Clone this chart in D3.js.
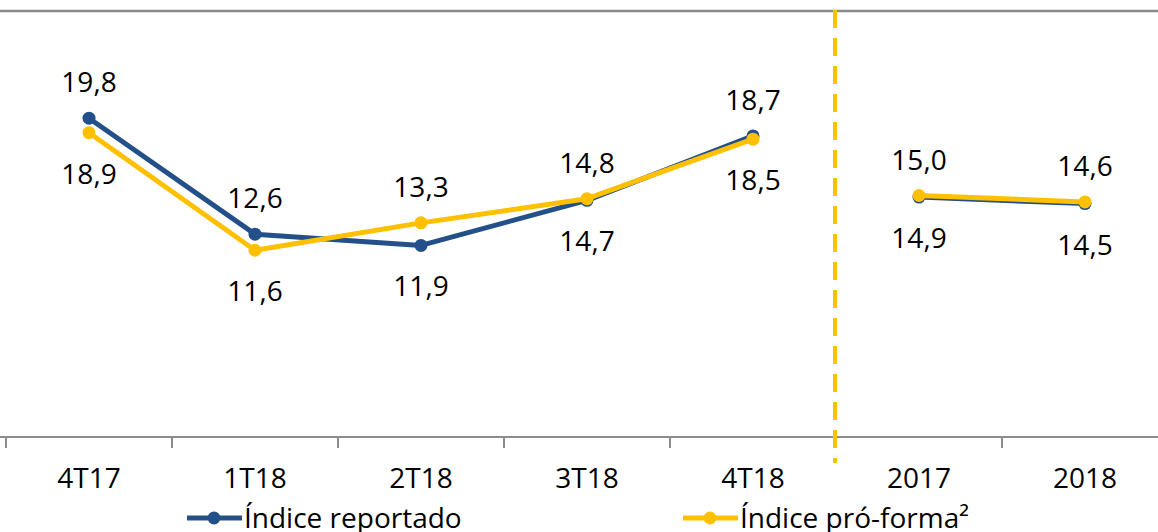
<!DOCTYPE html>
<html>
<head>
<meta charset="utf-8">
<script src="https://cdn.jsdelivr.net/npm/d3@7"></script>
<style>
  html, body { margin: 0; padding: 0; background: #fff; }
  svg { display: block; }
  text { font-family: "Open Sans", "Liberation Sans", sans-serif; fill: #000; }
</style>
</head>
<body>
<svg id="chart" width="1158" height="532"></svg>
<script>
const categories = ["4T17", "1T18", "2T18", "3T18", "4T18", "2017", "2018"];
const reportado = [19.8, 12.6, 11.9, 14.7, 18.7, 14.9, 14.5];
const proforma = [18.9, 11.6, 13.3, 14.8, 18.5, 15.0, 14.6];
// label placement: 1 = above point, -1 = below point
const reportadoPos = [1, 1, -1, -1, 1, -1, -1];
const proformaPos = [-1, -1, 1, 1, -1, 1, 1];
const groups = [[0, 1, 2, 3, 4], [5, 6]];
const seriesNames = ["Índice reportado", "Índice pró-forma²"];

const blue = "#245089";
const gold = "#FFC000";
const fontSize = "28px";

const svg = d3.select("#chart");
const x = d3.scaleBand().domain(categories).range([6, 6 + 7 * 166]).padding(0);
const y = d3.scaleLinear().domain([0, 27]).range([437, 437 - 27 * 16.1]);
const cx = c => x(c) + x.bandwidth() / 2;

// top gray border line
svg.append("line").attr("x1", 0).attr("x2", 1158).attr("y1", 11).attr("y2", 11)
  .attr("stroke", "#8c8c8c").attr("stroke-width", 2.5);

// x axis
const axis = d3.axisBottom(x).tickSize(0).tickFormat(d => d);
const gx = svg.append("g").attr("transform", "translate(0,437)").call(axis);
gx.select(".domain").attr("stroke", "#8c8c8c").attr("stroke-width", 2)
  .attr("d", "M0,0H1158");
gx.selectAll(".tick text").attr("dy", null).attr("y", 51)
  .style("font-size", fontSize).style("font-family", "'Open Sans', sans-serif").attr("fill", "#000");
// tick marks at category boundaries
const bounds = categories.map(c => x(c));
svg.append("g").selectAll("line").data(bounds).join("line")
  .attr("x1", d => d).attr("x2", d => d).attr("y1", 437).attr("y2", 448)
  .attr("stroke", "#8c8c8c").attr("stroke-width", 2);

// dashed separator between quarters and years
svg.append("line").attr("x1", x("2017") - 1).attr("x2", x("2017") - 1)
  .attr("y1", 10).attr("y2", 463)
  .attr("stroke", gold).attr("stroke-width", 4).attr("stroke-dasharray", "18,10");

function drawSeries(vals, color) {
  const g = svg.append("g");
  groups.forEach(grp => {
    g.append("path").attr("d", d3.line().x(i => cx(categories[i])).y(i => y(vals[i]))(grp))
      .attr("fill", "none").attr("stroke", color).attr("stroke-width", 5)
      .attr("stroke-linejoin", "round");
  });
  g.selectAll("circle").data(vals).join("circle")
    .attr("cx", (d, i) => cx(categories[i])).attr("cy", d => y(d))
    .attr("r", 6.5).attr("fill", color);
}
drawSeries(reportado, blue);
drawSeries(proforma, gold);

function drawLabels(vals, pos) {
  svg.append("g").selectAll("text").data(vals).join("text")
    .attr("x", (d, i) => cx(categories[i]))
    .attr("y", (d, i) => pos[i] > 0 ? y(d) - 26 : y(d) + 51)
    .attr("text-anchor", "middle")
    .style("font-size", fontSize)
    .text(d => d.toFixed(1).replace(".", ","));
}
drawLabels(reportado, reportadoPos);
drawLabels(proforma, proformaPos);

// legend
const legend = [{ name: seriesNames[0], color: blue, x0: 187 }, { name: seriesNames[1], color: gold, x0: 683 }];
const lg = svg.append("g");
legend.forEach(l => {
  lg.append("line").attr("x1", l.x0).attr("x2", l.x0 + 55).attr("y1", 518).attr("y2", 518)
    .attr("stroke", l.color).attr("stroke-width", 5);
  lg.append("circle").attr("cx", l.x0 + 27).attr("cy", 518).attr("r", 6.5).attr("fill", l.color);
  lg.append("text").attr("x", l.x0 + 57).attr("y", 528).style("font-size", fontSize).text(l.name);
});
</script>
</body>
</html>
